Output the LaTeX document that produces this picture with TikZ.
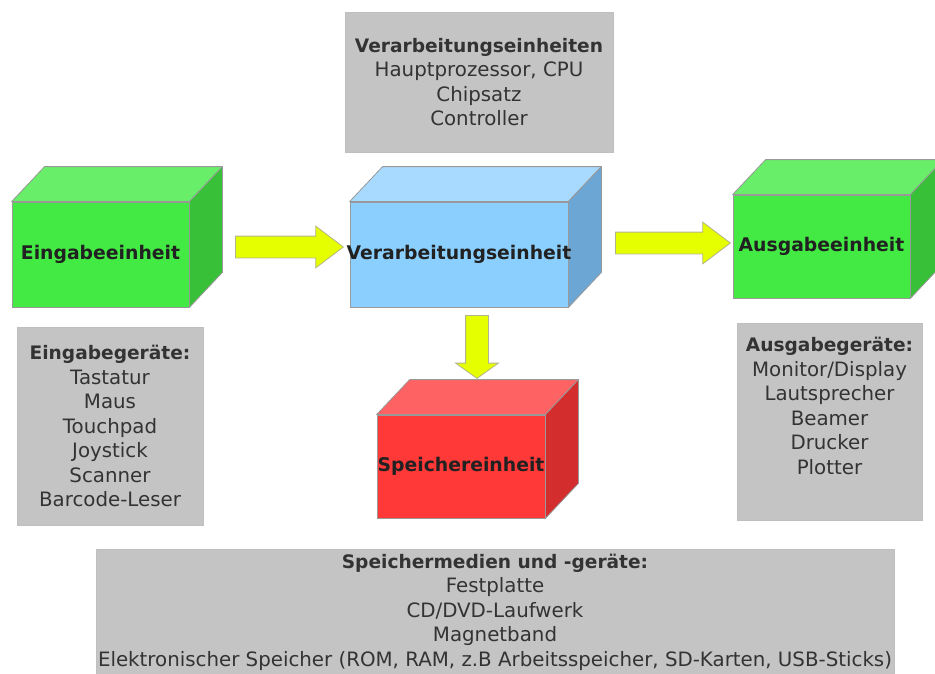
\documentclass[tikz,border=0pt]{standalone}
\usepackage{fontspec}
\setmainfont{DejaVu Sans}
\usetikzlibrary{shapes.arrows}

\definecolor{gruenvorne}{HTML}{44EA44}
\definecolor{gruenoben}{HTML}{68EE68}
\definecolor{gruenseite}{HTML}{38C038}
\definecolor{blauvorne}{HTML}{8BCFFF}
\definecolor{blauoben}{HTML}{A8DAFF}
\definecolor{blauseite}{HTML}{6CA6D4}
\definecolor{rotvorne}{HTML}{FF3838}
\definecolor{rotoben}{HTML}{FF6262}
\definecolor{rotseite}{HTML}{D42D2D}
\definecolor{kasten}{HTML}{C4C4C4}
\definecolor{gelb}{HTML}{E6FF00}
\definecolor{pfeilrand}{HTML}{B4B48C}

\newcommand{\titel}{\fontsize{18.6}{24.5}\selectfont\bfseries}
\newcommand{\quader}[3]{%
  \filldraw[seite, fill=#2] (#1.north west) -- ([shift={(33,-35)}]#1.north west)
    -- ([shift={(33,-35)}]#1.north east) -- (#1.north east) -- cycle;
  \filldraw[seite, fill=#3] (#1.north east) -- ([shift={(33,-35)}]#1.north east)
    -- ([shift={(33,-35)}]#1.south east) -- (#1.south east) -- cycle;}

\begin{document}
\begin{tikzpicture}[x=1pt,y=-1pt,
    front/.style={draw=black!40, line width=0.8pt, inner sep=0pt},
    seite/.style={draw=black!40, line width=0.8pt, line join=round},
    einheit/.style={font=\fontsize{18.8}{24.5}\selectfont\bfseries, text=black!87},
    liste/.style={draw=black!25, fill=kasten, line width=0.8pt, align=center, inner sep=0pt,
                  font=\fontsize{19.8}{24.5}\selectfont, text=black!80},
    pfeil/.style={single arrow, draw=pfeilrand, fill=gelb, line width=0.8pt, inner xsep=0pt,
                  inner ysep=10.5pt, single arrow head extend=10pt, single arrow tip angle=74,
                  anchor=tail}]
  \useasboundingbox (0,0) rectangle (935,673);

  \node[liste, minimum width=268pt, minimum height=140pt] (Verarbeitungseinheiten) at (479,82)
    {{\titel Verarbeitungseinheiten}\\Hauptprozessor, CPU\\Chipsatz\\Controller};

  \node[front, fill=gruenvorne, minimum width=177pt, minimum height=105pt] (Eingabe) at (100.5,254.5) {};
  \quader{Eingabe}{gruenoben}{gruenseite}
  \node[einheit] (Eingabe Text) at (Eingabe) {Eingabeeinheit};

  \node[front, fill=blauvorne, minimum width=218pt, minimum height=105pt] (Verarbeitung) at (459,254.5) {};
  \quader{Verarbeitung}{blauoben}{blauseite}
  \node[einheit] (Verarbeitung Text) at (Verarbeitung) {Verarbeitungseinheit};

  \node[front, fill=gruenvorne, minimum width=177pt, minimum height=103pt] (Ausgabe) at (821.5,246.5) {};
  \quader{Ausgabe}{gruenoben}{gruenseite}
  \node[einheit] (Ausgabe Text) at (Ausgabe) {Ausgabeeinheit};

  \node[front, fill=rotvorne, minimum width=168pt, minimum height=103pt] (Speicher) at (461,466.5) {};
  \quader{Speicher}{rotoben}{rotseite}
  \node[einheit] (Speicher Text) at (Speicher) {Speichereinheit};

  \node[pfeil, minimum height=108pt] (Pfeil Eingabe) at (235,247) {};
  \node[pfeil, minimum height=115pt] (Pfeil Ausgabe) at (615,243) {};
  \node[pfeil, minimum height=63pt, inner ysep=11pt, single arrow tip angle=109, rotate=-90]
    (Pfeil Speicher) at (477,315) {};

  \node[liste, minimum width=186pt, minimum height=198pt] (Eingabegeraete) at (110,426)
    {{\titel Eingabegeräte:}\\Tastatur\\Maus\\Touchpad\\Joystick\\Scanner\\Barcode-Leser};
  \node[liste, minimum width=185pt, minimum height=197pt] (Ausgabegeraete) at (829.5,421.5)
    {{\titel Ausgabegeräte:}\\Monitor/Display\\Lautsprecher\\Beamer\\Drucker\\Plotter\\\strut};
  \node[liste, minimum width=798pt, minimum height=126pt] (Speichermedien) at (495,612)
    {{\titel Speichermedien und -geräte:}\\Festplatte\\CD/DVD-Laufwerk\\Magnetband\\
     Elektronischer Speicher (ROM, RAM, z.B Arbeitsspeicher, SD-Karten, USB-Sticks)};
\end{tikzpicture}
\end{document}
